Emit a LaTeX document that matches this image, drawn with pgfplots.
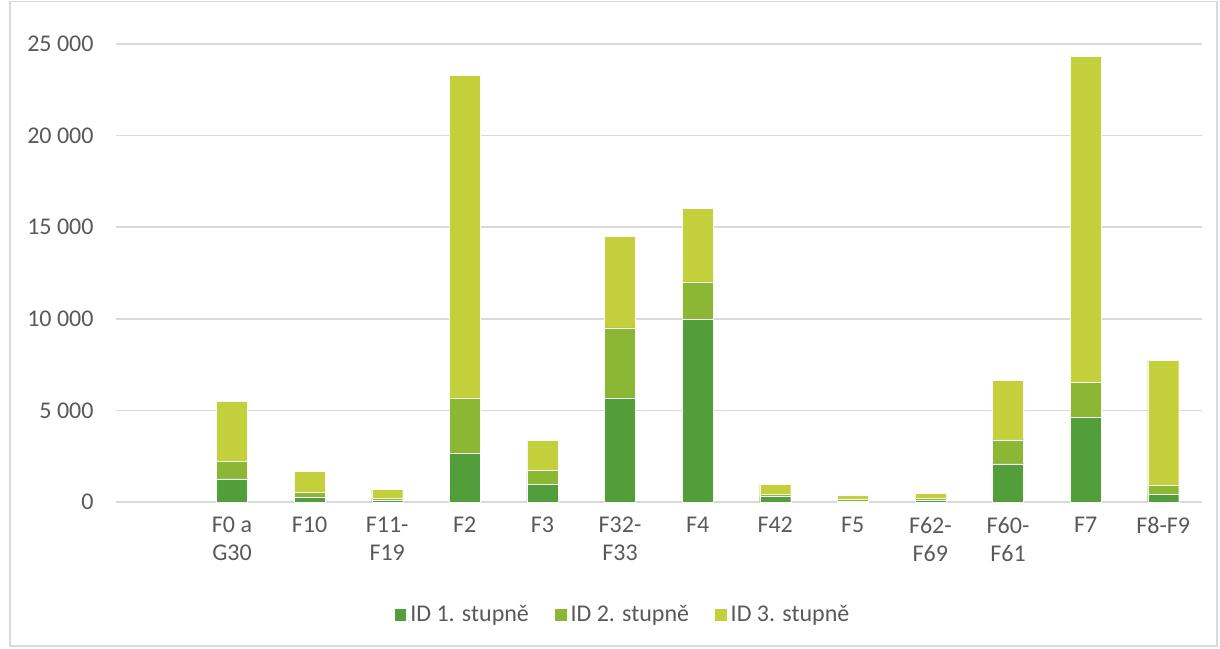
\documentclass[border=0pt]{standalone}
\usepackage{pgfplots}
\usepackage{pgfplotstable}
\pgfplotsset{compat=1.18}
\usepackage{fontspec}
\setmainfont{Carlito}

\definecolor{gA}{RGB}{82,158,58}
\definecolor{gB}{RGB}{139,183,52}
\definecolor{gC}{RGB}{195,208,59}
\definecolor{txt}{RGB}{89,89,89}
\definecolor{gridc}{RGB}{217,217,217}

% dark / mid / light segment of each stacked bar
\pgfplotstableread{
x  d1    d2    d3
1  1270  950   3270
2  255   272   1128
3  90    128   455
4  2655  3035  17610
5  965   745   1670
6  5690  3820  5000
7  9965  2055  4020
8  290   110   580
9  55    72    218
10 73    109   273
11 2090  1310  3250
12 4620  1910  17800
13 420   490   6820
}\data

\begin{document}
\begin{tikzpicture}
\useasboundingbox (-57.8pt,-73pt) rectangle (552.2pt,251pt);
\draw[gridc, line width=0.6pt] (-52.8pt,-72pt) rectangle (550.7pt,250.4pt);
\begin{axis}[
  scale only axis,
  width=543.2pt, height=229pt,
  ybar stacked,
  bar width=15.5pt,
  xmin=-0.5, xmax=13.5,
  ymin=0, ymax=25000,
  xtick={1,...,13},
  xticklabels={{F0 a\\G30},F10,{F11-\\F19},F2,F3,{F32-\\F33},F4,F42,F5,{F62-\\F69},{F60-\\F61},F7,F8-F9},
  ytick={0,5000,...,25000},
  scaled y ticks=false,
  /pgf/number format/assume math mode=true,
  /pgf/number format/1000 sep={\ },
  major tick length=0pt,
  axis line style={draw=none},
  ymajorgrids=true,
  grid style={gridc, line width=0.75pt},
  font=\fontsize{12}{14}\selectfont,
  tick label style={txt},
  xticklabel style={align=center, yshift=-4pt},
  yticklabel style={xshift=-7.5pt},
  legend columns=3,
  legend style={at={(0.468,-0.247)}, anchor=center, draw=none, fill=none,
    text=txt, font=\fontsize{12}{14}\selectfont,
    /tikz/every even column/.append style={column sep=11pt}},
  legend image code/.code={\fill[#1,draw=none] (0pt,-2.9pt) rectangle (5.8pt,2.9pt);},
  every axis plot/.append style={draw=white!85!gridc, line width=0.2pt},
]
\addplot[fill=gA] table[x=x,y=d1] {\data};
\addplot[fill=gB] table[x=x,y=d2] {\data};
\addplot[fill=gC] table[x=x,y=d3] {\data};
\legend{ID 1. stupně, ID 2. stupně, ID 3. stupně}
\end{axis}
\end{tikzpicture}
\end{document}
